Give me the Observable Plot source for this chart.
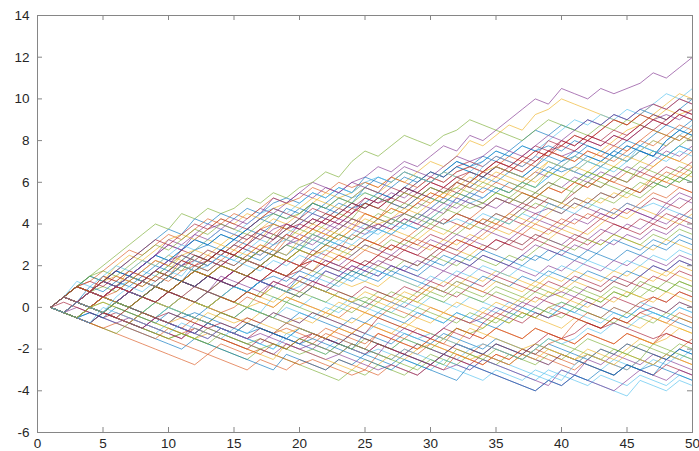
<!DOCTYPE html>
<html>
<head>
<meta charset="utf-8">
<script src="https://cdn.jsdelivr.net/npm/d3@7"></script>
<script src="https://cdn.jsdelivr.net/npm/@observablehq/plot@0.6"></script>
<style>
  html, body { margin: 0; padding: 0; background: #ffffff; }
  #chart { width: 699px; height: 451px; overflow: hidden; }
</style>
</head>
<body>
<div id="chart"></div>
<script>
// Tick labels
const xTicks = [0, 5, 10, 15, 20, 25, 30, 35, 40, 45, 50];
const yTicks = [-6, -4, -2, 0, 2, 4, 6, 8, 10, 12, 14];

// MATLAB default colour order
const colors = ["#0072BD", "#D95319", "#EDB120", "#7E2F8E", "#77AC30", "#4DBEEE", "#A2142F"];

// Series values (x = 1..50)
const s0 = [0, .5,.25,.75,1.25,1,1.5,1.25, 1.75,2.25,2,2.5,2.25,2.75,3.25, 3,3.5,3.25,3.75,4.25,4,4.5, 5,4.75,5,5.5,5.25,5.75,6.25, 6,6.5,7,6.75,7.25,7,7.5, 8,8.5,8.25,8.75,8.5,9,8.75, 9.25,9,9.5,9.25,9,9.5,10];
const s1 = [0, -.25,.25,.75,.5,1,1.5,1.25, 1.75,1.5,2,1.75,2.25,2.75,2.5, 3,3.75,3.5,4,3.75,4.25,4, 4.5,5,4.75,5.25,5,4.75,5.25, 5,5.5,6,5.75,6.25,6.75,7.25, 7,7.5,7.25,7.75,8.25,8,8.5, 9,8.75,9.25,9.75,9.5,10,9.75];
const s2 = [0,.5,.25,.75,1.25,1,1.75,2.25,2,2.5, 2.25,2.75,3.25,3,3.5,3.25,3.75,4.25,4,4.5, 5,5.5,5.25,5.5,6,5.75,6.25,6,6.5,7, 6.75,7.25,8,7.75,8.25, 8.75,8.5,9.25,9.5,10, 9.75,9.5,9.25,9,8.75, 9.25,9,9.5,9.25,9.5];
const s3 = [0,.5,1,.75,1.25,1.75,1.5,2,2.5,3, 2.75,3.25,3.75,4,3.75,4.25,4.75,4.5,5,5.5, 6,5.75,5.5,6,6.25,6.75,6.5,7,6.75,7.25, 7.75,7.5,8.25,8,8.5, 9,9.5,10, 9.75,10.5,10.25,10,10.5,10.25, 10.5,10.75,11.25,11,11.5,12];
const s4 = [0,.5,1,1.5,2,2.5,3,3.5,4,3.75, 4.5,4.25,4.75,4.5,4.75,5.25,5,5.5,5.25,5.75, 6,6.5,6.25,7,7.5,7.25,7.75,8.25,8,7.75, 8.25,8.5,9,8.75,8.5, 8.25,8,8.5,9,8.75,8.5,8.25,8.75,8.5,9,8.75,8.5,8.25,8,8.5];
const s5 = [0,.5,1,.75,.5,1,1.25,1.75,1.5,2, 2.5,2.25,2,2.5,3,2.75,3.25,3,3.5,4, 4.5,4.25,4.75,5.25,5.5,5.25,5,5.5,6,6.5, 6.25,6.75,6.5,7,7.5,7.25,7.75,7.5,8,8.5, 9,8.75,9.25,9,9.5, 9.25,9.75,10.25,10,10.5];
const s6 = [0, .5,1,.75,.5,1,.75,1.25, 1,1.5,2,2.25,2,2.5,3, 2.75,2.5,3,3.5,3.25,3.75,4.25, 4.75,4.5,5,4.75,5.25,5.75,5.5, 6,5.75,5.5,6,6.5,6.25,6.75, 7.25,7.75,7.5,8,7.75,8.25,8, 7.75,8.25,8.75,8.5,9,9.5,9.25];
const s7 = [0, -.25,.25,0,-.25,.25,0,-.25, -.5,-.75,-.25,-.5,0,-.25,-.5, 0,-.25,-.5,-.75,-.25,-.5,-.75, -1,-.5,-.75,-.25,-.5,-.75,-.25, -.5,-.75,-.25,-.5,-.75,-1,-.5, 0,-.25,-.5,0,-.25,.25,0, -.25,-.5,0,-.25,-.5,-.75,-1];
const s8 = [0, -.25,-.5,-.75,-1,-1.25,-1.5,-1.75, -2,-2.25,-2.5,-2.75,-2.25,-2.5,-2.75, -3,-2.5,-2.75,-3,-2.5,-2.75,-3, -2.5,-2.75,-3,-2.25,-2.5,-2,-2.25, -1.75,-2,-2.25,-2.5,-2.75,-2.25,-2.5, -2,-2.25,-2.5,-2.75,-3,-2.5,-2, -2.25,-1.75,-2,-2.25,-2.5,-2,-1.5];
const s9 = [0, .5,.25,0,.5,.25,.75,.5, .25,.75,1.25,1,.75,1.25,1, 1.5,1.25,1.75,1.5,1.25,1.75,2.25, 2,1.75,2.25,2,2.5,2.25,2, 2.5,3,2.75,2.5,3,2.75,3.25, 3,3.5,3.25,3.75,3.5,3.25,3, 3.5,3.25,3,2.75,3.25,3,2.75];
const s10 = [0, -.25,-.5,0,-.25,-.5,-.75,-1, -.5,-.75,-1,-1.25,-.75,-1,-1.25, -1.5,-1.75,-1.25,-1.5,-1.75,-2,-1.5, -1.75,-2,-2.25,-1.75,-2,-2.25,-2.5, -2.75,-2.25,-2.5,-2.75,-3,-3.25,-3.5, -3.75,-4,-3.5,-3.75,-3.25,-2.5,-2.75, -2.25,-2.5,-2.75,-2.25,-2.5,-2.75,-3];
const s11 = [0, -.25,-.5,-.75,-.25,-.5,-.75,-1, -1.25,-1.5,-1.25,-1.5,-1.75,-2,-2.25, -2.5,-2,-2.25,-2.5,-2.75,-3,-3.25, -3.5,-3,-3.25,-2.75,-3,-3.25,-2.75, -2.25,-2.5,-2.75,-2.25,-2.5,-2.75,-2.25, -2.5,-2.75,-2.25,-2.5,-2,-2.25,-2.5, -2,-2.25,-1.75,-2,-2.25,-1.75,-2];
const s12 = [0, .5,.25,0,-.25,.25,0,-.25, -.5,0,-.25,-.5,-.75,-.25,-.5, -.75,-1,-1.25,-.75,-1,-1.25,-1.5, -1.75,-1.25,-1.5,-1.75,-2,-2.25,-1.75, -2,-2.25,-2.5,-2,-2.25,-2.5,-2.75, -3,-3.25,-3.5,-3,-3.25,-3.5,-3.75, -4,-4.25,-3.5,-3.75,-4,-3.5,-3.75];
const s13 = [0, -.25,.25,0,.5,.25,0,.5, .25,.75,.5,.25,0,.5,.25, .75,1.25,1,.75,.5,1,.75, .5,.25,0,.5,.25,0,.5, 1,.75,.5,1,.75,.5,.25, 0,.5,.25,0,.5,.25,0, .5,.25,0,.5,.25,.75,.5];
const s14 = [0, .5,.25,.75,.5,.25,.75,1.25, 1,1.5,1.25,2,1.75,2.25,2, 2.5,2.25,2.75,2.5,3,2.75,3.25, 3,2.75,3.25,3.75,3.5,4,3.75, 4.25,4,4.5,4.25,4,4.5,4.25, 4.75,5.25,5,4.75,5.25,5,5.5, 5.25,5.75,5.5,6,5.75,6.25,6];
const s15 = [0, .5,1,.75,.5,.25,.75,.5, .25,0,.5,.25,0,-.25,0, .5,.25,0,.5,.25,0,-.25, -.5,0,-.25,-.5,0,-.25,-.5, 0,-.25,-.5,-.75,-.25,-.5,0, -.25,-.5,0,-.25,-.5,-.75,-1, -.5,-.75,-.25,-.5,-.75,-.25,-.5];
const s16 = [0, -.25,-.5,0,.5,.25,.75,.5, 1,.75,1.25,1,1.5,1.25,1.75, 1.5,2,1.75,1.5,2,1.75,2.5, 2.25,2.75,3.25,3,2.75,3.25,3, 2.75,3.25,3,3.5,3.25,3.75,3.5, 4,3.75,3.5,4,3.75,3.5,4, 4.5,4.25,4.75,4.5,4.25,4,4.5];
const s17 = [0, .5,1,.75,1.25,1,.75,1.25, 1.75,1.5,2,2.5,2.25,2.75,2.5, 2.25,2.75,2.5,3,3.5,3.25,3.75, 4.25,4,3.75,4.25,4,4.5,5, 4.75,5.25,5,5.5,5.25,5.75,5.5, 6,6.5,6.25,6.75,6.5,6.25,6.75, 7.25,7,7.5,7.25,7.75,8.25,8];
const s18 = [0, -.25,-.5,0,-.25,.25,0,.5, .25,.75,.5,.25,0,.5,.25, .75,.5,1,.75,1.25,1,.75, .5,.25,.5,.25,.75,.5,.25, .75,.5,1,.75,.5,1,.75, .5,1,.75,.5,1,.75,.5, 1,.75,.5,1,.75,1.25,1];
const s19 = [0, -.25,.25,0,-.25,-.5,0,-.25, -.5,-.75,-.25,-.5,-.75,-1,-1.25, -.75,-1,-1.25,-1.5,-1,-1.25,-1.5, -1.75,-1.25,-1.5,-1.75,-2,-1.5,-1.75, -2,-2.25,-1.75,-2,-2.25,-1.75,-2, -2.25,-2.5,-2.75,-2.25,-2.5,-2.75,-3, -2.5,-2.75,-3,-2.5,-2.75,-2.25,-2.5];
const s20 = [0, .5,.25,0,.5,1,.75,.5, 1,1.5,1.25,1,1.5,1.25,1.75, 1.5,1.25,1.75,1.5,2,2.75,2.5, 3,2.75,3.25,3,2.75,3.25,3, 3.5,3.25,3.75,4.25,4,3.75,4.25, 4,4.5,4.25,4,4.5,4.25,4.75, 4.5,5,4.75,5.25,5,4.75,5.25];
const s21 = [0, .5,.25,.75,.5,.25,0,.5, .25,.75,1.25,1,1.5,1.25,1, .75,1.25,1,.75,1.5,1.25,1.75, 1.5,1.25,1.75,1.5,2,1.75,1.5, 2,2.5,2.25,2,2.5,2.25,2, 2.5,2.25,2.75,2.5,2.25,2.75,2.5, 2.25,2.75,2.5,3,2.75,3.25,3];
const s22 = [0, -.25,.25,.75,.5,1,1.5,1.25, 1.75,1.5,1.25,1.75,1.5,2,2.5, 2.25,2.75,2.5,3.25,3,3.5,3.25, 3.75,4.25,4,3.75,4.25,4,4.5, 4.25,4,4.5,4.25,4.75,5.25,5, 5.5,5.25,5.75,5.5,6,5.75,6.25, 6,6.5,6.25,6.75,7.25,7,7.5];
const s23 = [0, -.25,-.5,-.75,-.25,-.5,0,-.25, .25,0,-.25,.25,0,-.25,-.5, -.75,-.25,-.5,-.75,-.5,-.75,-.25, -.5,-.75,-.25,-.5,-.75,-1,-.5, -.75,-.25,-.5,-.75,-1,-.5,-.75, -.25,-.5,-.75,-1,-.5,-.75,-1, -.5,-.75,-1,-.5,-.75,-1,-1.25];
const s24 = [0, .5,.25,0,.5,.25,0,.5, 1,.75,1.25,1,.75,1.5,1.25, 1,.75,1.25,1,1.5,1.25,1, 1.5,2,1.75,1.5,2,1.75,1.5, 1.25,1.75,1.5,2,1.75,1.5,2, 1.75,1.5,2,1.75,2.25,2,1.75, 2.25,2,2.5,2.25,2,2.5,2.25];
const s25 = [0, .5,1,1.5,1.25,1,1.5,1.25, 1,1.5,1.25,1.75,2.25,2,1.75, 2.25,2,2.5,2.25,2.75,3.25,3, 2.75,2.5,3,2.75,3.25,3,3.5, 4,3.75,3.5,4,3.75,4.25,4, 4.5,5,4.75,4.5,5,4.75,5.25, 5,5.5,5.25,5.75,6.25,6,6.5];
const s26 = [0, -.25,.25,0,-.25,.25,0,-.25, .25,.75,.5,.25,0,.5,.25, 0,-.25,.5,.25,0,.5,.25, 0,.5,.25,0,-.25,.25,0, .5,.25,0,.5,.25,0,-.25, -.5,0,-.25,.25,0,-.25,-.5, 0,-.25,.25,0,-.25,.25,0];
const s27 = [0, .5,.25,.75,.5,1,.75,.5, 1,1.5,1.25,1.75,1.5,1.25,1.75, 1.5,1.25,1.75,1.5,1.75,2.25,2, 2.5,2.25,2,2.5,2.25,2.75,2.5, 2.25,2.75,3.25,3,2.75,3.25,3, 2.75,3.25,3,2.75,3.25,3,3.5, 4,3.75,3.5,4,3.75,4.25,4];
const s28 = [0, .5,1,.75,1.25,1.75,1.5,2, 2.5,2.25,2.75,3.25,3,3.5,3.25, 3.75,3.5,4,3.75,4.25,5,4.75, 4.5,5,4.75,5.25,5,4.75,5.25, 5.75,5.5,6,5.75,6.25,6,6.5, 6.25,6.75,6.5,7,7.5,7.25,7, 7.5,8,7.75,8.25,8.75,8.5,9];
const s29 = [0, -.25,-.5,0,-.25,-.5,-.75,-.25, -.5,-.75,-1,-.5,-.75,-1,-1.25, -.75,-1,-1.25,-1,-1.25,-1.5,-1, -1.25,-1.5,-1.75,-1.25,-1.5,-1.75,-2, -1.5,-1.75,-2,-2.25,-1.75,-2,-2.25, -2.5,-2,-2.25,-2.5,-2.75,-2.25,-2.5, -2.75,-3,-2.5,-2.75,-2.25,-2.5,-2.75];
const s30 = [0, .5,1,.75,.5,.25,.75,.5, .25,.75,.5,1,.75,.5,1, .75,.5,.25,.75,.5,1,.75, 1.25,1,1.25,1,1.5,1.25,1, .75,1.25,1,1.5,1.25,1.75,1.5, 1.25,1,1.5,1.25,1.75,1.5,1.25, 1.75,1.5,2,1.75,1.5,2,1.75];
const s31 = [0, -.25,.25,0,.5,1,.75,1.25, 1,.75,1.25,1,1.5,1.25,1.75, 2.25,2,1.75,2.25,2,2.5,2.25, 2,2.5,3,2.75,2.5,3,2.75, 3.25,3,3.5,3.25,3.75,3.5,3.25, 3.75,4.25,4,3.75,4.25,4,4.5, 4.25,4.75,4.5,4.25,4.75,5.25,5];
const s32 = [0, -.25,-.5,0,-.25,.25,.75,.5, 1,.75,1.25,1,.75,1.25,1, 1.5,2,1.75,1.5,2,1.75,1.5, 1.25,1.75,1.5,2,1.75,2.25,2, 2.5,2.25,2,2.5,2.25,2,2.5, 2.25,2.75,3.25,3,2.75,3.25,3, 3.5,3.25,3,3.5,3.25,3.75,3.5];
const s33 = [0, .5,.25,0,-.25,.25,0,-.25, .25,0,.5,.25,0,.5,.25, 0,-.25,-.5,0,-.25,-.5,0, -.25,.25,0,-.25,.25,0,-.25, -.5,-.75,-.25,-.5,0,-.25,.25, 0,-.25,-.5,0,-.25,-.5,-.75, -.25,-.5,0,-.25,-.5,0,-.25];
const s34 = [0, .5,.25,.75,1.25,1,.75,1.25, 1.75,1.5,1.25,1.75,2.25,2,2.5, 2.25,2,2.5,2.25,2.75,2.5,3, 3.5,3.25,3.75,4,3.75,4.25,4, 3.75,4.25,4,3.75,4.25,4,4.5, 5,4.75,5.25,5,5.5,6,5.75, 6.25,6,6.5,6.25,6.75,6.5,7];
const s35 = [0, -.25,.25,0,.5,.25,.75,.5, 1,.75,.5,.25,.75,.5,1, .75,1.25,1,.75,.5,1,.75, 1.25,1.75,1.5,1.25,1.75,1.5,1.25, 1,.75,1.25,1,1.5,1.25,1, 1.5,1.25,1.75,1.5,1.25,1.75,1.5, 1.25,1.75,1.5,2,1.75,2.25,2];
const s36 = [0, -.25,.25,0,-.25,-.5,-.75,-.25, -.5,-.75,-.25,-.5,-.75,-.25,-.5, -.75,-1,-1.25,-.75,-1,-1.25,-1.5, -1,-1.25,-.75,-1,-1.25,-1.5,-1, -1.25,-1.5,-1,-1.25,-1.5,-1,-1.25, -1.5,-1,-1.25,-1.5,-1.75,-1.25,-1.5, -1.75,-1.25,-1.5,-1.75,-1.25,-1.5,-1.75];
const s37 = [0, .5,.25,0,.5,1,.75,1.25, 1,1.5,1.25,1.75,1.5,2,1.75, 2.25,2.75,2.5,2.25,2.75,2.5,2.75, 2.5,3,2.75,3.25,3.75,3.5,3.25, 3.75,3.5,4,3.75,4.25,4,4.5, 4.25,4,4.5,5,4.75,5.25,5, 5.5,5.25,5.75,6.25,6,6.5,6.25];
const s38 = [0, .5,1,.75,.5,1,.75,.5, 1,.75,1.25,1.75,1.5,1.25,1.75, 1.5,2,1.75,1.5,2,1.75,2.25, 2,1.75,2.25,2,2.5,2.25,2, 2.5,3,2.75,3.25,3,2.75,3.25, 3,3.5,3.25,3,3.5,3.25,3.75, 3.5,4,3.75,4.25,4,4.5,4.25];
const s39 = [0, .5,.25,0,.5,.25,0,-.25, .25,0,.5,.25,0,.5,.25, 0,.75,.5,.25,.75,.5,.25, .75,.5,.25,.75,.5,.25,.75, .5,.25,.75,.5,.25,.75,.5, .25,.75,.5,1,.75,.5,.25, .75,.5,1,.75,1.25,1,.75];
const s40 = [0, -.25,.25,0,.5,.25,.75,1.25, 1,1.5,1.25,1,1.5,2,1.75, 2.25,2,2.5,3,2.75,3.25,3, 3.5,3.25,3.75,3.5,4,3.75,4.25, 4.75,5.25,5,5.5,5.25,5.75,5.5, 6,5.75,6.25,6.75,6.5,6.25,6.75, 7.25,7,7.5,8,7.75,8.25,8.75];
const s41 = [0, -.25,-.5,-.75,-.25,-.5,-.75,-1, -.5,-.75,-1,-1.25,-.75,-1,-1.25, -1.5,-1,-1.25,-1.5,-1.75,-1.25,-1.5, -1.75,-2,-2.25,-1.75,-2,-2.25,-1.75, -2,-2.25,-2.5,-2.75,-2.25,-2.5,-2.75, -2.25,-2.5,-2.75,-2.25,-2.5,-2.75,-3, -3.25,-2.75,-3,-3.25,-2.75,-3,-3.25];
const s42 = [0, .5,.25,.75,.5,.25,.75,.5, 1,1.5,1.25,1,1.5,1.25,1, .75,1.25,1.5,1.25,1.75,1.5,2, 1.75,1.5,2,1.75,1.5,2,1.75, 2.25,2,2.5,2.25,2.75,2.5,2.25, 2,2.5,2.25,2.75,2.5,2.25,2.75, 3.25,3,2.75,3.25,3,3.5,3.25];
const s43 = [0, .5,1,.75,1.25,1,.75,.5, 1,.75,1.25,1.75,1.5,2,1.75, 1.5,2,1.75,1.5,2,2.25,2, 2.5,2.25,2.75,2.5,3,2.75,3.25, 3,2.75,3.25,3,3.5,4,3.75, 3.5,4,3.75,4.25,4,4.5,4.25, 4.75,4.5,5,5.5,5.25,5.75,5.5];
const s44 = [0, -.25,-.5,0,.5,.25,0,.5, .25,.75,.5,.25,.75,.5,.25, .75,.5,1,.75,1.25,1,.75, .5,.25,.75,.5,.25,.75,.5, 1,.75,1.25,1,.75,1.25,1, .75,1.25,1,.75,1.25,1,.75, 1.25,1,1.5,1.25,1.75,1.5,1.25];
const s45 = [0, .5,.25,.75,.5,1,1.5,1.25, 1.75,2.25,2,1.75,2.25,2,2.5, 2.25,2.75,2.5,3,3.25,3,3.5, 4,3.75,3.5,4,3.75,4.25,4, 4.5,5,4.75,5.25,5,4.75,5.25, 5,5.5,6,5.75,6.25,6,6.5, 6.25,6.75,6.5,7,7.5,7.25,7.75];
const s46 = [0, -.25,-.5,0,-.25,.25,0,-.25, -.5,0,-.25,-.5,-.75,-.25,-.5, 0,-.25,-.5,.25,0,-.25,-.5, 0,-.25,.25,0,-.25,-.5,0, -.25,-.5,-.75,-.25,-.5,-.75,-.25, -.5,0,-.25,-.5,0,-.25,-.5, -.75,-.25,-.5,-.75,-.25,-.5,-.75];
const s47 = [0, -.25,.25,.75,.5,.25,.75,.5, .25,0,.5,.25,.75,.5,1, .75,1.25,1,.75,1,1.5,1.25, 1,1.5,1.25,1.75,1.5,1.25,1, 1.5,1.25,1.75,1.5,2,1.75,1.5, 2,1.75,1.5,2,1.75,2.25,2, 1.75,2.25,2,2.5,2.25,2.75,2.5];
const s48 = [0, .5,.25,0,.5,.25,.75,1.25, 1,.75,1.25,1,1.5,1.25,1, 1.5,2,1.75,2.25,2,2.25,2, 1.75,2.25,2,2.5,3,2.75,2.5, 3,2.75,2.5,3,2.75,3.25,3, 3.5,3.25,3.75,3.5,3.25,3.75,4.25, 4,3.75,4.25,4,4.5,4.25,4.75];
const s49 = [0, -.25,-.5,-.75,-.25,-.5,-.75,-.25, -.5,-.75,-1,-1.25,-.75,-1,-1.25, -.75,-1,-1.25,-1.5,-1,-1.25,-1.5, -1.75,-2,-1.25,-1.5,-1.75,-1.25,-1.5, -1.75,-1.25,-1.5,-1.75,-2,-1.5,-1.75, -2,-2.25,-1.75,-2,-2.25,-2.5,-2, -2.25,-1.75,-2,-2.25,-2.5,-2,-2.25];
const s50 = [0, -.25,.25,0,.5,1,.75,1.25, 1,.75,1.25,1.75,1.5,2,1.75, 2.25,2,2.5,2.25,2,2.5,3, 2.75,3.5,3.25,3,3.5,3.25,3.75, 4.25,4,4.5,4.25,4,4.5,4.25, 4.75,5.25,5,4.75,5.25,5,5.5, 5.25,5.75,5.5,6,6.5,6.25,6.75];
const s51 = [0, .5,.25,.75,.5,.25,0,.5, .25,0,.5,.25,0,.5,.25, 0,.25,0,.5,.25,0,-.25, .25,0,-.25,.25,0,.5,.25, 0,-.25,.25,0,-.25,.25,0, .5,.25,.75,.5,.25,0,.5, .25,.75,.5,.25,.75,.5,.25];
const s52 = [0, -.25,-.5,0,-.25,.25,.75,.5, .25,.75,.5,1,.75,1.25,1, 1.5,1.25,1,1.5,1.25,1,1.75, 1.5,2,1.75,2.25,2,1.75,2.25, 2,1.75,2.25,2,2.5,2.25,2, 2.5,3,2.75,2.5,3,2.75,3.25, 3,3.5,3.25,3.75,3.5,4,3.75];
const s53 = [0, .5,1,.75,1.25,1,1.5,1.25, 1.75,1.5,2,1.75,2.25,2.75,2.5, 2.25,2.75,2.5,3,2.75,3.5,3.25, 3.75,4.25,4,4.5,4.25,4,4.5, 4.25,4.75,4.5,5,4.75,5.25,5, 5.5,5.25,5.75,6.25,6,6.5,6.25, 6.75,6.5,7,7.5,7.25,7.75,8.25];
const s54 = [0, -.25,-.5,0,-.25,-.5,-.75,-1, -1.25,-.75,-1,-1.25,-1.5,-1,-1.25, -1.5,-1.75,-2,-1.5,-1.75,-2,-2.25, -1.75,-2,-2.25,-2,-2.25,-2.5,-2.75, -3,-2.5,-2.75,-3,-2.5,-2.75,-3, -3.25,-3.5,-3,-3.25,-3.5,-3.75,-3.25, -3.5,-3.75,-3.25,-3.5,-3.75,-3.25,-3.5];
const s55 = [0, .5,.25,0,-.25,.25,0,.5, .25,.75,.5,.25,.75,.5,.25, .75,.5,1.25,1,.75,1.25,1, .75,.5,1,.75,.5,1,.75, 1.25,1,1.5,1.25,1,1.5,1.25, 1,.75,1.25,1,1.5,1.25,1, 1.5,1.25,1,1.5,1.25,1.75,1.5];
const s56 = [0, -.25,-.5,-.25,-.5,-.75,-1,-1.25, -1.5,-1.75,-2,-1.5,-1.75,-2,-2.25, -2.5,-2.75,-3,-2.25,-2.5,-2.75,-3, -2.5,-2.75,-2.25,-2.5,-2.75,-2.25,-2.5, -2.75,-2.25,-1.75,-2,-2.25,-1.75,-2, -2.25,-1.75,-2,-2.25,-2.5,-2.75,-3, -3.25,-2.75,-3,-2.75,-3,-3.25,-3.5];
const s57 = [0, -.25,.25,0,-.25,-.5,-.75,-1, -1.25,-1.5,-1.75,-2,-2.25,-1.75,-2, -2.25,-2,-2.25,-2.5,-2.75,-2.5,-2.75, -3,-3.25,-3,-3.25,-2.75,-3,-3.25, -2.75,-3,-2.25,-2.5,-2.75,-2.25,-2.5, -2,-2.25,-1.75,-1.5,-1.75,-1.25,-1.5, -1.75,-1.25,-1.5,-1.75,-1,-.5,-.75];
const s58 = [0, -.25,.25,0,.25,0,-.25,-.5, -.75,-1,-1.25,-1.5,-1.25,-1.5,-1.75, -2,-2.25,-2.5,-1.75,-2,-2.25,-2.5, -2.75,-3,-2.5,-2.75,-2.25,-2.5,-2, -1.75,-2,-2.25,-2.5,-2.25,-2.5,-2.75, -2.25,-2.5,-2,-2.25,-2.5,-2,-2.25, -2.5,-2,-1.5,-1.75,-1.5,-1,-1.25];
const s59 = [0, -.25,0,-.25,-.5,-.75,-.5,-.75, -1,-1.25,-1.5,-.75,-1,-1.25,-1.5, -1.75,-2,-2.25,-1.75,-2,-2.25,-2.5, -2.25,-2.5,-2.75,-3,-2.75,-3,-3.25, -2.75,-3,-2.75,-3,-2.5,-2.75,-3, -3.25,-3.5,-3.75,-3,-3.25,-3.5,-3.75, -4,-3.5,-3,-3.25,-3.5,-3,-3.25];
const s60 = [0, -.25,-.5,-.75,-1,-1.25,-.75,-1, -1.25,-1.5,-1.25,-1.5,-1,-1.25,-1.5, -1.75,-1.5,-1.75,-2,-2.25,-2,-2.25, -1.75,-2,-1.5,-1.75,-2,-1.5,-1.75, -2,-1.5,-1,-1.25,-1,-.5,-.75, -.25,-.5,0,.25,0,.5,.25, .75,.5,1.25,1,.75,1.25,1];
const s61 = [0, -.25,.25,0,-.25,.25,0,-.25, -.5,0,-.25,-.5,-.75,-1,-1.25, -1.5,-1.75,-2,-1.25,-1.5,-1.75,-2, -1.5,-1.75,-2,-2.25,-2.5,-2,-2.25, -2.5,-2.75,-3,-3.25,-3.5,-3,-3.25, -3.5,-3,-3.25,-3.5,-2.75,-2.25,-2.5, -2.75,-3,-2.5,-2.75,-2.25,-2.5,-2];
const s62 = [0, .25,0,-.25,-.5,-.25,-.5,-.75, -1,-1.25,-1.5,-1,-1.25,-1.5,-1.75, -2,-1.5,-1.75,-2,-1.5,-1.25,-1.5, -1.75,-1.25,-1.5,-1.75,-2,-2.25,-2.5, -2.75,-2.25,-1.75,-2,-2.25,-1.75,-2, -2.25,-1.75,-1.25,-1.5,-1.25,-.75,-1, -.5,-.75,-.25,0,-.25,.25,0];
const s63 = [0, -.25,-.5,-.25,-.5,0,-.25,-.5, -.75,-.25,-.5,-.25,-.5,-.75,-1, -1.25,-1,-1.25,-1.5,-1.75,-1.5,-1.75, -2,-2.25,-2.5,-2.75,-3,-2.5,-2.75, -3,-3.25,-3.5,-2.75,-3,-3.25,-3.5, -3.75,-4,-3.5,-3.75,-3.25,-3.5,-3, -3.25,-2.75,-3,-3.25,-2.5,-2,-2.25];
const s64 = [0, -.25,-.5,-.75,-1,-.75,-1,-1.25, -1.5,-1,-1.25,-1,-1.25,-1.5,-1.75, -2,-2.25,-1.75,-2,-1.5,-1.75,-1.25, -1.5,-1.75,-2,-1.25,-1.5,-1.75,-2, -1.5,-1.75,-1,-1.25,-1.5,-1,-1.25, -1.5,-1,-1.25,-1.5,-.75,-.25,-.5, 0,-.25,.25,.5,.25,.75,.5];
const s65 = [0, -.25,-.5,0,-.25,-.5,-.75,-.25, -.5,-.75,-.5,-.75,-.25,-.5,-.75, -.5,-.75,-1,-1.25,-1,-1.25,-1.5, -1,-1.25,-.75,-1,-1.25,-.75,-1, -1.25,-1.5,-1.75,-1,-1.25,-1.5,-1.75, -2,-1.75,-2,-2.25,-2.5,-2.25,-2.5, -2.75,-2.25,-2.5,-2.75,-2.25,-2.5,-2.75];
const s66 = [0, -.25,-.5,-.75,-.25,-.5,-.75,-1, -.5,-.75,-1,-1.25,-1.5,-1,-1.25, -1.5,-1.25,-1.5,-1.75,-2,-1.75,-2, -2.25,-1.75,-2,-2.25,-1.5,-1,-1.25, -1.5,-1,-.5,-.75,-.5,0,-.25, .25,0,.5,.75,.5,1,.75, 1.25,1,1.5,2,1.75,2.25,2];
const s67 = [0, -.25,.25,0,.25,0,-.25,-.5, -.75,-1,-1.25,-1.5,-1.75,-1.25,-1.5, -1.75,-2,-1.75,-2,-1.5,-1.75,-2, -2.25,-1.75,-2,-2.25,-2.5,-2.75,-3, -2.5,-2.75,-2,-2.25,-2.5,-2,-2.25, -2.5,-2,-1.5,-1.75,-2,-1.5,-1.75, -2,-2.25,-2.5,-1.75,-2,-2.25,-2.5];
const s68 = [0, -.25,-.5,-.75,0,-.25,-.5,-.75, -1,-1.25,-.75,-1,-1.25,-1.5,-1, -1.25,-.75,-.25,-.5,-.75,-.25,-.5, -.75,-1,-1.25,-.75,-1,-1.25,-1.5, -1.25,-1.5,-1.75,-2,-1.75,-2,-2.25, -2.5,-2,-1.5,-1.75,-1.5,-1,-1.25, -.75,-1,-.5,-.25,-.5,0,-.25];
const s69 = [0, .5,.25,0,-.25,-.5,0,-.25, -.5,-.25,-.5,-.75,-1,-.75,-1, -.5,-.75,-.25,-.5,-.75,-.25,-.5, -.75,-1,-1.25,-.5,-.75,-1,-1.25, -1.5,-1,-1.25,-1.5,-.75,-.25,-.5, -.75,-.25,-.5,-.25,-.5,-.75,-1, -.75,-1,-1.25,-1.5,-1.25,-1.5,-1.75];
const s70 = [0, .5,1,.75,1.25,1.75,1.5,2, 2.5,2.25,2.75,3.25,3,3.5,3.25, 3.75,4.25,4,4.75,4.5,5,4.75, 5.25,5,5.75,5.5,5.25,5.75,5.5, 5.25,5,5.5,5.25,5.75,5.5,6, 5.75,6.25,6.75,6.5,6.75,7.25,7, 7.5,7.25,7.75,7.5,7.25,7.75,7.5];
const s71 = [0, -.25,.25,.75,.5,1,.75,1.25, 1,1.5,2.25,2,2.5,2.25,2.75, 3.25,3.75,4,3.75,4.25,4,4.5, 4.25,4.75,4.5,4.25,5,5.5,5.25, 5.75,5.5,6,6.5,6.25,6.75,6.5, 7,6.75,7.5,7.25,7,7.5,7.25, 7,7.5,8,7.75,8.25,8,8.5];
const s72 = [0, .5,1,.75,1.5,1.25,1.75,1.5, 1.25,1.75,2.5,2.25,2.75,2.5,3, 3.5,3.25,4,3.75,3.5,4,3.75, 3.5,4,4.5,4.25,4.75,4.5,5, 5.5,5.25,5.75,6.25,6,6.5,6.25, 6,6.5,7,6.75,6.5,7,6.75, 7.25,7,7.5,8,7.75,8.25,8];
const s73 = [0, .5,.25,.75,1.25,1,1.5,2, 2.5,3,2.75,3.5,3.25,3.75,3.5, 3.25,3.75,3.5,3.25,4,4.5,4.25, 4,4.5,5.25,5,5.5,5.25,5.75, 6.25,6,6.5,6.75,6.5,7,6.75, 6.5,7,7.5,7.25,7.5,8,7.75, 8.25,8,8.5,9,9.25,9,9.5];
const s74 = [0, .5,.25,.75,1,.75,1.25,1, 1.5,2,1.75,2.5,2.25,2.75,2.5, 2.25,2.75,3.5,3.25,3.75,3.5,4, 4.5,4.25,5,4.75,4.5,5,4.75, 5.25,5,5.5,5.25,5,5.5,5.25, 5,5.5,5.25,5,5.75,6.25,6, 5.75,5.5,6,5.75,6.25,6,6.5];
const s75 = [0, .5,.25,.75,1.25,1,1.5,1.25, 1,1.5,2,1.75,2,2.5,2.25, 2.75,2.5,3,3.25,3,3.5,3.25, 3,3.5,4,3.75,4.25,4,4.5, 4.25,4.75,5.25,5,5.25,5.75,5.5, 6,5.75,6.25,6.75,6.5,7,6.75, 6.5,7,7.5,7.25,7,7.5,7.25];
const s76 = [0, .5,1,1.25,1,1.5,1.25,1.75, 2.25,2,2.75,2.5,2.25,2.75,2.5, 3,3.5,3.25,4,3.75,4.25,4, 4.5,5,4.75,5.25,5.75,5.5,6, 6.5,6.25,6.75,7,6.75,7.25,7, 6.75,7.25,8,7.75,8.25,8,8.5, 9,8.75,9.25,9,8.75,9.25,9];
const s77 = [0, -.25,.25,1,.75,1.25,1,1.5, 2,1.75,2.25,2.75,3,2.75,3.25, 3.75,4.25,4.5,4.25,4.75,4.5,5, 5.5,5.25,5.75,6.25,6,6.5,6.25, 6,6.5,7,6.75,7,7.5,7.25, 7.75,7.5,7.75,7.5,8,7.75,7.5, 7.25,7.75,7.5,7.25,8,8.5,8.25];
const s78 = [0, -.25,.25,.75,.5,.75,1.25,1, 1.5,1.25,1.75,2,1.75,2.25,2, 2.5,3,2.75,3.5,3.25,3.75,3.5, 3.25,3.75,4.5,4.25,4.75,4.5,5, 5.5,5.25,6,5.75,5.5,6,5.75, 5.5,5.25,5.75,5.5,6,5.75,6.25, 6,5.75,5.5,6.25,6,5.75,5.5];
const s79 = [0, .5,.25,.75,1.25,1.5,1.25,1.75, 2.25,2,2.5,2.75,2.5,3,2.75, 2.5,3,2.75,2.5,3.25,3.75,3.5, 3.25,3.75,4.25,4,4.25,4.75,4.5, 5,5.5,5.25,6,5.75,6.25,6, 5.75,6.25,7,6.75,7.25,7,7.5, 8,8.5,8.75,9.25,9.75,10.25,10];
const s80 = [0, -.25,.25,.75,.5,1,.75,1.25, 1.75,2.25,2.5,2.25,2.75,2.5,3, 3.5,3.25,3.75,4,3.75,4.25,4, 3.75,4.25,4,3.75,4.25,4.5,4.25, 4.75,4.5,5.25,5,4.75,5.25,5, 4.75,4.5,4.75,4.5,5,4.75,4.5, 4.25,4.75,4.5,4.25,5,5.5,5.25];
const s81 = [0, -.25,-.5,0,-.25,.25,0,.5, 1,.75,1.25,1.75,1.5,2,1.75, 1.5,2,2.5,2.25,2.75,2.5,3, 3.5,3.25,3.75,4.25,4,4.5,4.25, 4,4.5,5,4.75,5,5.5,5.25, 5.75,5.5,6,5.75,5.5,6,5.75, 6.25,6,6.75,6.5,6.25,6.75,6.5];
const s82 = [0, -.25,.25,0,-.25,.5,1,.75, 1.25,1.75,1.5,2.25,2,2.5,2.25, 2,1.75,2.25,2,2.5,2.25,2.75, 3.25,3,3.5,3.75,3.5,4,3.75, 4.25,4,4.25,4,4.5,4.25,4, 4.5,4.25,5,4.75,4.5,5,4.75, 4.5,5,4.75,5,4.75,4.5,4.25];
const s83 = [0, .5,1,.75,1.5,1.25,1.75,1.5, 1.25,1.75,2.25,2,2.25,2.75,2.5, 3,2.75,3.25,3.75,4,3.75,4.25, 4,4.5,5,4.75,5.25,5,5.5, 6,5.75,6.25,6.5,6.25,6.75,6.5, 7,7.5,7.25,8,7.75,8.25,8, 8.5,8.25,8.75,9.25,9,9.5,9.25];
const s84 = [0, .5,1,1.5,1.25,1.75,2.25,2.75, 3.25,3.75,3.5,4.25,4,4.5,4.25, 4.75,4.5,5,5.25,5,5.5,5.25, 5.75,5.5,6.25,6,5.75,6.25,6, 6.5,6.25,6.75,6.5,6.25,6.75,6.5, 6.25,6.75,7.25,7,7.25,7.75,7.5, 7.25,7.75,7.5,7.25,8,8.5,8.25];
const s85 = [0, .5,1,1.25,1.75,2.25,2.75,2.5, 3,3.5,3.25,3.75,4.25,4,4.5, 4.25,4.75,5.25,5,5.25,5.75,5.5, 6,5.75,6,5.75,6.25,6,5.75, 6.25,6,6.5,6.75,6.5,7,6.75, 6.5,7,7.5,7.25,7,7.5,7.25, 7.75,7.5,8,8.5,8.25,8.75,8.5];
const s86 = [0, .5,1,.75,1.25,2,2.5,2.25, 2.75,3.25,3.5,3.25,3.75,4.25,4, 4.5,4.25,4.75,5,4.75,5.25,5, 4.75,5.25,5.75,5.5,6,6.5,6.25, 6,6.5,6.25,6,6.5,6.75,6.5, 6.25,6,6.5,6.25,6.75,6.5,7, 6.75,7.25,7,6.75,7.25,7,6.75];
const s87 = [0, .5,.25,.75,1.25,1,1.5,2, 2.5,3.25,3,3.5,4,3.75,4.25, 4,4.5,5.25,5,5.5,5.25,5.75, 5.5,6,5.75,5.5,6.25,6.75,6.5, 6.25,6.75,7.25,7,7.25,7.75,7.5, 7.25,7.75,8.25,8,8.5,9,8.75, 9.25,9,9.5,9.75,9.5,10,9.75];
const s88 = [0, .5,1,1.5,1.75,1.5,2,2.5, 3,2.75,3.25,3.75,3.5,4,3.75, 3.5,4,4.5,4.25,4.5,5,4.75, 5.25,5,5.5,5.25,5,5.5,5.25, 5.75,5.5,5.75,5.5,6,5.75,5.5, 6,5.75,6.5,6.25,6,6.5,6.25, 6.75,6.5,6.25,6,5.75,6.25,6];
const s89 = [0, .5,1.25,1,1.5,2,1.75,2.25, 2,2.5,3,2.75,3.25,3.75,3.5, 4,4.5,4.75,4.5,5,5.5,5.25, 5.75,5.5,6,6.25,6,6.5,6.25, 6,6.5,6.25,6,6.75,7.25,7, 6.75,7.25,7,6.75,7.25,7,6.75, 7.25,7,7.75,7.5,7.25,7.75,7.5];
const s90 = [0, .5,1,.75,1.25,1.75,2.25,2.75, 3.25,3,3.5,4,3.75,4.25,4, 3.75,4.25,4.75,4.5,4.25,4.75,4.5, 4.25,4.75,5.25,5,5.25,5.75,5.5, 5.25,5.75,6.25,6,6.5,7,6.75, 7.25,7,7.5,7.75,7.5,8,7.75, 8.25,8,8.5,9,8.75,9.25,9];

const series = [s0,s1,s2,s3,s4,s5,s6,s7,s8,s9,s10,s11,s12,s13,s14,s15,s16,s17,s18,s19,
  s20,s21,s22,s23,s24,s25,s26,s27,s28,s29,s30,s31,s32,s33,s34,s35,s36,s37,s38,s39,
  s40,s41,s42,s43,s44,s45,s46,s47,s48,s49,s50,s51,s52,s53,s54,s55,s56,s57,s58,s59,
  s60,s61,s62,s63,s64,s65,s66,s67,s68,s69,s70,s71,s72,s73,s74,s75,s76,s77,s78,s79,
  s80,s81,s82,s83,s84,s85,s86,s87,s88,s89,s90];

// Long table for Plot
const rows = series.flatMap((vals, i) =>
  vals.map((v, j) => ({x: j + 1, y: v, s: i, c: i % colors.length}))
);

const axisGray = "#868686";
const textCol = "#262626";
const W = 699, H = 451;
const mL = 37, mR = 7, mT = 15, mB = 19;
const innerW = W - mL - mR, innerH = H - mT - mB;
const tick = 5;

const chart = Plot.plot({
  width: W,
  height: H,
  marginLeft: mL,
  marginRight: mR,
  marginTop: mT,
  marginBottom: mB,
  style: {fontFamily: "'Liberation Sans', Arial, Helvetica, sans-serif", fontSize: "13.5px", background: "#ffffff", color: textCol},
  x: {domain: [0, 50], ticks: xTicks, label: null},
  y: {domain: [-6, 14], ticks: yTicks, label: null},
  color: {type: "ordinal", domain: d3.range(colors.length), range: colors},
  marks: [
    Plot.line(rows, {x: "x", y: "y", z: "s", stroke: "c", strokeWidth: 0.75, strokeOpacity: 0.85, clip: true}),
    Plot.frame({stroke: axisGray, strokeWidth: 1}),
    // inward tick marks on all four sides
    Plot.ruleX(xTicks, {x: d => d, insetTop: innerH - tick, stroke: axisGray}),
    Plot.ruleX(xTicks, {x: d => d, insetBottom: innerH - tick, stroke: axisGray}),
    Plot.ruleY(yTicks, {y: d => d, insetRight: innerW - tick, stroke: axisGray}),
    Plot.ruleY(yTicks, {y: d => d, insetLeft: innerW - tick, stroke: axisGray}),
    // tick labels
    Plot.axisX(xTicks, {anchor: "bottom", tickSize: 0, tickPadding: 6, label: null, fill: textCol, tickFormat: d => String(d)}),
    Plot.axisY(yTicks, {anchor: "left", tickSize: 0, tickPadding: 8, label: null, fill: textCol, tickFormat: d => String(d)})
  ]
});

document.getElementById("chart").appendChild(chart);
</script>
</body>
</html>
